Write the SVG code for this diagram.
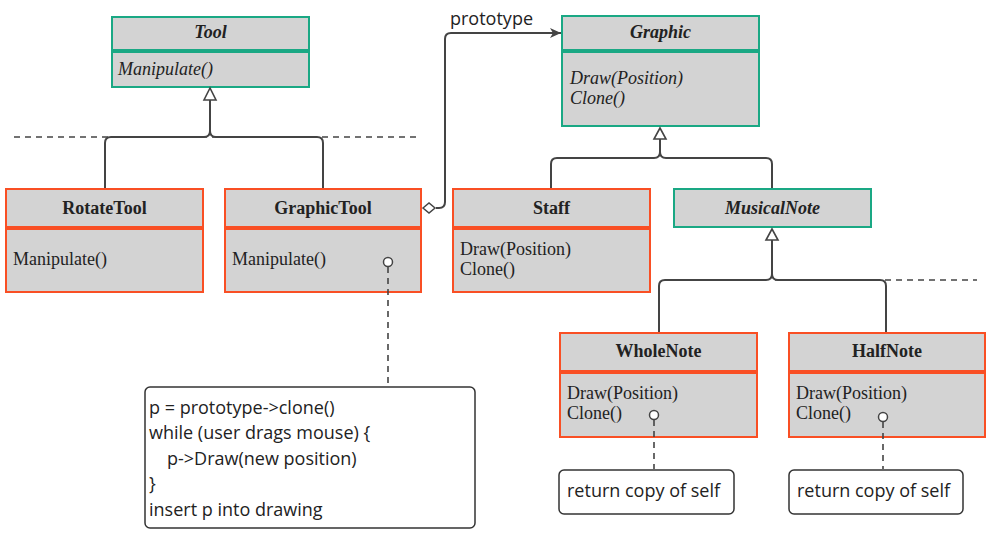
<svg xmlns="http://www.w3.org/2000/svg" width="993" height="539" viewBox="0 0 993 539">
<style>
.box{fill:#d3d3d3;stroke-width:2}
.abs{stroke:#1aa884}
.con{stroke:#f94f24}
.t{font-family:"Liberation Serif",serif;font-size:18px;fill:#222}
.b{font-weight:bold}
.i{font-style:italic}
.c{text-anchor:middle}
.s{font-family:"Open Sans","Noto Sans",sans-serif;font-size:18px;fill:#222}
.ln{fill:none;stroke:#444;stroke-width:2}
.dash{fill:none;stroke:#444;stroke-width:1.6;stroke-dasharray:6 5}
.note{fill:#fff;stroke:#333;stroke-width:1.5}
.tri{fill:#fff;stroke:#444;stroke-width:1.6}
.lol{fill:#fff;stroke:#444;stroke-width:1.5}
</style>
<defs>
<marker id="arr" markerWidth="12" markerHeight="10" refX="11" refY="5" orient="auto" markerUnits="userSpaceOnUse">
<path d="M0,0 L11,5 L0,10 L3,5 Z" fill="#444"/>
</marker>
</defs>
<rect width="993" height="539" fill="#fff"/>

<g id="Tool">
<rect class="box abs" x="112" y="17" width="197" height="33"/>
<rect class="box abs" x="112" y="52" width="197" height="35"/>
<text class="t b i c" x="210.5" y="38">Tool</text>
<text class="t i" x="118" y="75">Manipulate()</text>
</g>

<g id="RotateTool">
<rect class="box con" x="6" y="189" width="197" height="38"/>
<rect class="box con" x="6" y="229" width="197" height="63"/>
<text class="t b c" x="104.5" y="214">RotateTool</text>
<text class="t" x="13" y="265">Manipulate()</text>
</g>

<g id="GraphicTool">
<rect class="box con" x="225" y="189" width="196" height="38"/>
<rect class="box con" x="225" y="229" width="196" height="63"/>
<text class="t b c" x="323" y="214">GraphicTool</text>
<text class="t" x="232" y="265">Manipulate()</text>
</g>

<g id="Graphic">
<rect class="box abs" x="562" y="16" width="197" height="34"/>
<rect class="box abs" x="562" y="52" width="197" height="74"/>
<text class="t b i c" x="660.5" y="38">Graphic</text>
<text class="t i" x="570" y="84">Draw(Position)</text>
<text class="t i" x="570" y="104">Clone()</text>
</g>

<g id="Staff">
<rect class="box con" x="453" y="189" width="197" height="38"/>
<rect class="box con" x="453" y="229" width="197" height="63"/>
<text class="t b c" x="551.5" y="214">Staff</text>
<text class="t" x="460" y="255">Draw(Position)</text>
<text class="t" x="460" y="275">Clone()</text>
</g>

<g id="MusicalNote">
<rect class="box abs" x="674" y="189" width="197" height="38"/>
<text class="t b i c" x="772.5" y="214">MusicalNote</text>
</g>

<g id="WholeNote">
<rect class="box con" x="560" y="333" width="197" height="38"/>
<rect class="box con" x="560" y="373" width="197" height="64"/>
<text class="t b c" x="658.5" y="357">WholeNote</text>
<text class="t" x="567" y="399">Draw(Position)</text>
<text class="t" x="567" y="419">Clone()</text>
</g>

<g id="HalfNote">
<rect class="box con" x="789" y="333" width="196" height="38"/>
<rect class="box con" x="789" y="373" width="196" height="64"/>
<text class="t b c" x="887" y="357">HalfNote</text>
<text class="t" x="796" y="399">Draw(Position)</text>
<text class="t" x="796" y="419">Clone()</text>
</g>

<g id="note-graphictool">
<rect class="note" x="145" y="387" width="330" height="141" rx="5"/>
<text class="s" x="149" y="414">p = prototype-&gt;clone()</text>
<text class="s" x="149" y="439">while (user drags mouse) {</text>
<text class="s" x="167" y="465">p-&gt;Draw(new position)</text>
<text class="s" x="149" y="490">}</text>
<text class="s" x="149" y="516">insert p into drawing</text>
</g>

<g id="note-wholenote">
<rect class="note" x="559" y="470" width="175" height="44" rx="5"/>
<text class="s" x="567" y="497">return copy of self</text>
</g>

<g id="note-halfnote">
<rect class="note" x="789" y="470" width="174" height="44" rx="5"/>
<text class="s" x="797" y="497">return copy of self</text>
</g>

<g id="connectors">
<line class="dash" x1="14" y1="137" x2="420" y2="137"/>
<line class="dash" x1="775" y1="280" x2="977" y2="280"/>
<path class="ln" d="M210,100 V131 Q210,137 204,137 H111 Q105,137 105,143 V188"/>
<path class="ln" d="M210,131 Q210,137 216,137 H317 Q323,137 323,143 V188"/>
<polygon class="tri" points="210,88 204,100 216,100"/>
<path class="ln" d="M660,139 V152 Q660,158 654,158 H557 Q551,158 551,164 V188"/>
<path class="ln" d="M660,152 Q660,158 666,158 H766 Q772,158 772,164 V188"/>
<polygon class="tri" points="660,128 654,139 666,139"/>
<path class="ln" d="M772,240 V274 Q772,280 766,280 H665 Q659,280 659,286 V332"/>
<path class="ln" d="M772,274 Q772,280 778,280 H880 Q886,280 886,286 V332"/>
<polygon class="tri" points="772,229 766,240 778,240"/>
<path class="ln" d="M436,208 H439 Q445,208 445,202 V39 Q445,33 451,33 H561" marker-end="url(#arr)"/>
<polygon fill="#fff" stroke="#444" stroke-width="1.5" points="423,208 429,203 435,208 429,213"/>
<text class="s" x="450" y="25">prototype</text>
<line class="dash" x1="388" y1="267" x2="388" y2="386"/>
<circle class="lol" cx="388" cy="262" r="4.5"/>
<line class="dash" x1="654" y1="420" x2="654" y2="469"/>
<circle class="lol" cx="654" cy="415" r="4.5"/>
<line class="dash" x1="883" y1="422" x2="883" y2="469"/>
<circle class="lol" cx="883" cy="417" r="4.5"/>
</g>
</svg>
